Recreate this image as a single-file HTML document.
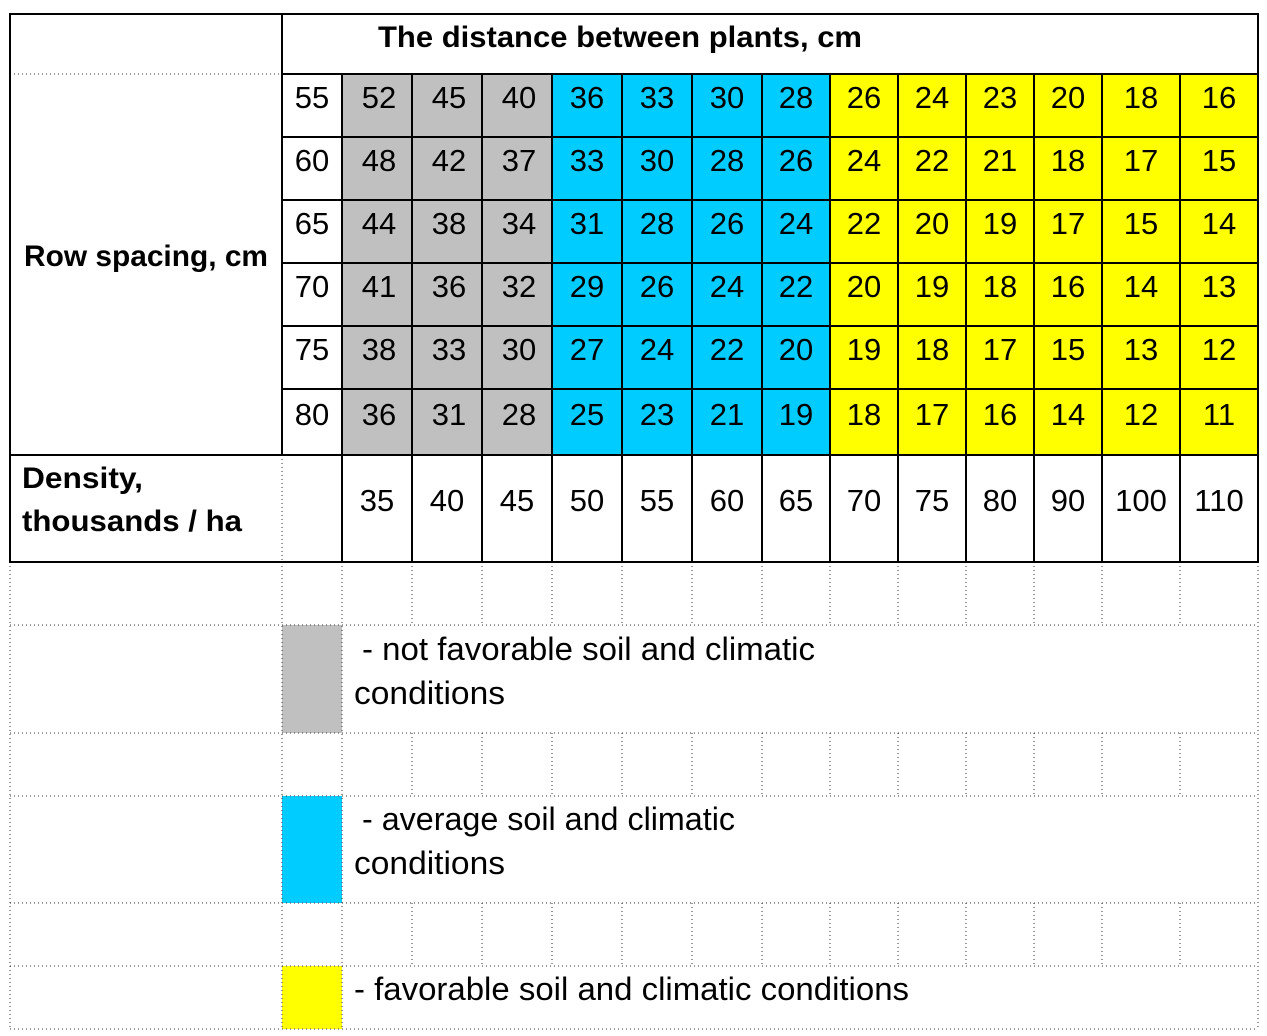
<!DOCTYPE html>
<html><head><meta charset="utf-8"><style>
html,body{margin:0;padding:0;background:#fff;}
svg{display:block;}
text{font-family:"Liberation Sans",sans-serif;fill:#000;}
.n{font-size:31px;text-anchor:middle;}
.b{font-size:30px;font-weight:bold;}
.l{font-size:32px;}
</style></head><body>
<svg width="1267" height="1036" viewBox="0 0 1267 1036" xmlns="http://www.w3.org/2000/svg">
<rect width="1267" height="1036" fill="#fff"/>
<rect x="342" y="74" width="210" height="381" fill="#c0c0c0"/>
<rect x="552" y="74" width="278" height="381" fill="#00ccff"/>
<rect x="830" y="74" width="428" height="381" fill="#ffff00"/>
<rect x="282" y="625" width="60" height="108" fill="#c0c0c0"/>
<rect x="282" y="796" width="60" height="107" fill="#00ccff"/>
<rect x="282" y="966" width="60" height="63" fill="#ffff00"/>
<g stroke="#333" stroke-width="1" stroke-dasharray="1,3" fill="none">
<line x1="10" y1="74" x2="282" y2="74"/>
<line x1="282" y1="455" x2="282" y2="562"/>
<line x1="10" y1="625" x2="1258" y2="625"/>
<line x1="10" y1="733" x2="1258" y2="733"/>
<line x1="10" y1="796" x2="1258" y2="796"/>
<line x1="10" y1="903" x2="1258" y2="903"/>
<line x1="10" y1="966" x2="1258" y2="966"/>
<line x1="10" y1="1029" x2="1258" y2="1029"/>
<line x1="10" y1="562" x2="10" y2="1029"/>
<line x1="282" y1="562" x2="282" y2="1029"/>
<line x1="342" y1="562" x2="342" y2="1029"/>
<line x1="1258" y1="562" x2="1258" y2="1029"/>
<path d="M412 562V625M482 562V625M552 562V625M622 562V625M692 562V625M762 562V625M830 562V625M898 562V625M966 562V625M1034 562V625M1102 562V625M1180 562V625"/>
<path d="M412 733V796M482 733V796M552 733V796M622 733V796M692 733V796M762 733V796M830 733V796M898 733V796M966 733V796M1034 733V796M1102 733V796M1180 733V796"/>
<path d="M412 903V966M482 903V966M552 903V966M622 903V966M692 903V966M762 903V966M830 903V966M898 903V966M966 903V966M1034 903V966M1102 903V966M1180 903V966"/>
</g>
<g stroke="#000" stroke-width="2" fill="none">
<rect x="10" y="14" width="1248" height="548"/>
<line x1="282" y1="14" x2="282" y2="455"/>
<line x1="282" y1="74" x2="1258" y2="74"/>
<line x1="282" y1="137" x2="1258" y2="137"/>
<line x1="282" y1="200" x2="1258" y2="200"/>
<line x1="282" y1="263" x2="1258" y2="263"/>
<line x1="282" y1="326" x2="1258" y2="326"/>
<line x1="282" y1="389" x2="1258" y2="389"/>
<line x1="10" y1="455" x2="1258" y2="455"/>
<path d="M342 74V562M412 74V562M482 74V562M552 74V562M622 74V562M692 74V562M762 74V562M830 74V562M898 74V562M966 74V562M1034 74V562M1102 74V562M1180 74V562"/>
</g>
<text class="b" x="378" y="47" textLength="484" lengthAdjust="spacingAndGlyphs">The distance between plants, cm</text>
<text class="b" x="24" y="266" textLength="244" lengthAdjust="spacingAndGlyphs">Row spacing, cm</text>
<text class="b" x="22" y="488" textLength="121" lengthAdjust="spacingAndGlyphs">Density,</text>
<text class="b" x="22" y="531" textLength="220" lengthAdjust="spacingAndGlyphs">thousands / ha</text>
<g class="n">
<text x="312" y="108">55</text><text x="379" y="108">52</text><text x="449" y="108">45</text><text x="519" y="108">40</text><text x="587" y="108">36</text><text x="657" y="108">33</text><text x="727" y="108">30</text><text x="796" y="108">28</text><text x="864" y="108">26</text><text x="932" y="108">24</text><text x="1000" y="108">23</text><text x="1068" y="108">20</text><text x="1141" y="108">18</text><text x="1219" y="108">16</text>
<text x="312" y="171">60</text><text x="379" y="171">48</text><text x="449" y="171">42</text><text x="519" y="171">37</text><text x="587" y="171">33</text><text x="657" y="171">30</text><text x="727" y="171">28</text><text x="796" y="171">26</text><text x="864" y="171">24</text><text x="932" y="171">22</text><text x="1000" y="171">21</text><text x="1068" y="171">18</text><text x="1141" y="171">17</text><text x="1219" y="171">15</text>
<text x="312" y="234">65</text><text x="379" y="234">44</text><text x="449" y="234">38</text><text x="519" y="234">34</text><text x="587" y="234">31</text><text x="657" y="234">28</text><text x="727" y="234">26</text><text x="796" y="234">24</text><text x="864" y="234">22</text><text x="932" y="234">20</text><text x="1000" y="234">19</text><text x="1068" y="234">17</text><text x="1141" y="234">15</text><text x="1219" y="234">14</text>
<text x="312" y="297">70</text><text x="379" y="297">41</text><text x="449" y="297">36</text><text x="519" y="297">32</text><text x="587" y="297">29</text><text x="657" y="297">26</text><text x="727" y="297">24</text><text x="796" y="297">22</text><text x="864" y="297">20</text><text x="932" y="297">19</text><text x="1000" y="297">18</text><text x="1068" y="297">16</text><text x="1141" y="297">14</text><text x="1219" y="297">13</text>
<text x="312" y="360">75</text><text x="379" y="360">38</text><text x="449" y="360">33</text><text x="519" y="360">30</text><text x="587" y="360">27</text><text x="657" y="360">24</text><text x="727" y="360">22</text><text x="796" y="360">20</text><text x="864" y="360">19</text><text x="932" y="360">18</text><text x="1000" y="360">17</text><text x="1068" y="360">15</text><text x="1141" y="360">13</text><text x="1219" y="360">12</text>
<text x="312" y="425">80</text><text x="379" y="425">36</text><text x="449" y="425">31</text><text x="519" y="425">28</text><text x="587" y="425">25</text><text x="657" y="425">23</text><text x="727" y="425">21</text><text x="796" y="425">19</text><text x="864" y="425">18</text><text x="932" y="425">17</text><text x="1000" y="425">16</text><text x="1068" y="425">14</text><text x="1141" y="425">12</text><text x="1219" y="425">11</text>
<text x="377" y="511">35</text><text x="447" y="511">40</text><text x="517" y="511">45</text><text x="587" y="511">50</text><text x="657" y="511">55</text><text x="727" y="511">60</text><text x="796" y="511">65</text><text x="864" y="511">70</text><text x="932" y="511">75</text><text x="1000" y="511">80</text><text x="1068" y="511">90</text><text x="1141" y="511">100</text><text x="1219" y="511">110</text>
</g>
<text class="l" x="362" y="660" textLength="453" lengthAdjust="spacingAndGlyphs">- not favorable soil and climatic</text>
<text class="l" x="354" y="704" textLength="151" lengthAdjust="spacingAndGlyphs">conditions</text>
<text class="l" x="362" y="830" textLength="373" lengthAdjust="spacingAndGlyphs">- average soil and climatic</text>
<text class="l" x="354" y="874" textLength="151" lengthAdjust="spacingAndGlyphs">conditions</text>
<text class="l" x="354" y="1000" textLength="555" lengthAdjust="spacingAndGlyphs">- favorable soil and climatic conditions</text>
</svg>
</body></html>
